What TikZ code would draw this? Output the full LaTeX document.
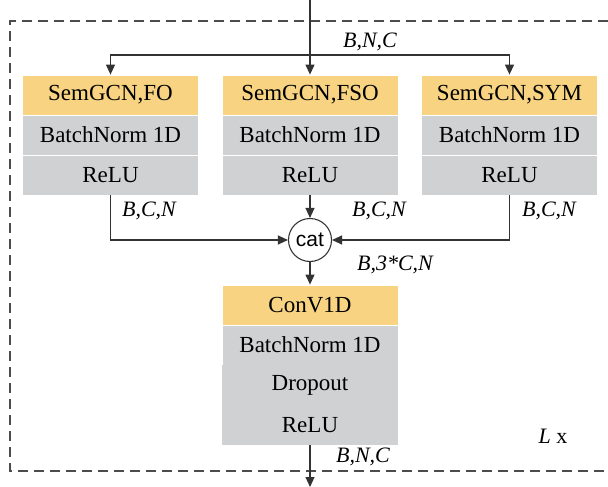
\documentclass[tikz,border=0pt]{standalone}
\usepackage{fontspec}
\setmainfont{Liberation Serif}
\newfontfamily\catfont{Liberation Sans}
\usetikzlibrary{arrows.meta,positioning}
\definecolor{headyellow}{RGB}{247,211,130}
\definecolor{layergray}{RGB}{208,209,211}

\tikzset{
  layer/.style={fill=layergray, draw=white, line width=0.8pt, minimum width=176pt, minimum height=40pt, inner sep=0pt, font=\fontsize{23}{26}\selectfont},
  head/.style={layer, fill=headyellow},
  dims/.style={font=\fontsize{22}{26}\selectfont\itshape, inner sep=0pt},
  frame/.style={draw=black!70, line width=1.2pt, dash pattern=on 10pt off 6pt},
  flow/.style={draw=black!80, line width=1.1pt, -{Triangle[length=10pt,width=9pt]}}
}

\begin{document}
\begin{tikzpicture}[x=1pt,y=-1pt,node distance=40pt,on grid]
\useasboundingbox (0,0) rectangle (608,487);
% outer dashed frame, open on the right
\draw[frame] (608,21) -| (10,471) -- (608,471);

% three graph branches
\node[head] (fo) at (110.5,95) {SemGCN,FO};
\node[layer, below=of fo] (fobn) {BatchNorm 1D};
\node[layer, below=of fobn] (forelu) {ReLU};
\node[head] (fso) at (310,95) {SemGCN,FSO};
\node[layer, below=of fso] (fsobn) {BatchNorm 1D};
\node[layer, below=of fsobn] (fsorelu) {ReLU};
\node[head] (sym) at (509.5,95) {SemGCN,SYM};
\node[layer, below=of sym] (symbn) {BatchNorm 1D};
\node[layer, below=of symbn] (symrelu) {ReLU};

% concatenation
\node[circle, draw=black!80, line width=1.1pt, minimum size=43pt, inner sep=0pt, font=\catfont\fontsize{21}{24}\selectfont] (cat) at (310,240) {cat};

% conv block
\node[head] (conv) at (310,305) {ConV1D};
\node[layer, below=of conv] (convbn) {BatchNorm 1D};
\node[layer, draw=none, below=of convbn] (drop) {Dropout};
\node[layer, draw=none, below=of drop] (convrelu) {ReLU};

% input split
\coordinate (in) at (fso.north |- 0,0);
\coordinate (split) at (fso.north |- 0,55);
\draw[flow] (in) -- (fso.north);
\draw[flow] (split) -| (fo.north);
\draw[flow] (split) -| (sym.north);

% merge and output
\draw[flow] (forelu.south) |- (cat.west);
\draw[flow] (fsorelu.south) -- (cat.north);
\draw[flow] (symrelu.south) |- (cat.east);
\draw[flow] (cat.south) -- (conv.north);
\coordinate (out) at (convrelu.south |- 0,487);
\draw[flow] (convrelu.south) -- (out);

% tensor shapes
\node[dims] (inlabel) at (370,42) {B,N,C};
\node[dims] (folabel) at (149,211) {B,C,N};
\node[dims] (fsolabel) at (379,211) {B,C,N};
\node[dims] (symlabel) at (549,211) {B,C,N};
\node[dims] (catlabel) at (395,265) {B,3*C,N};
\node[dims] (outlabel) at (363,457) {B,N,C};
\node[font=\fontsize{22}{26}\selectfont] (rep) at (553,436) {\textit{L} x};
\end{tikzpicture}
\end{document}
